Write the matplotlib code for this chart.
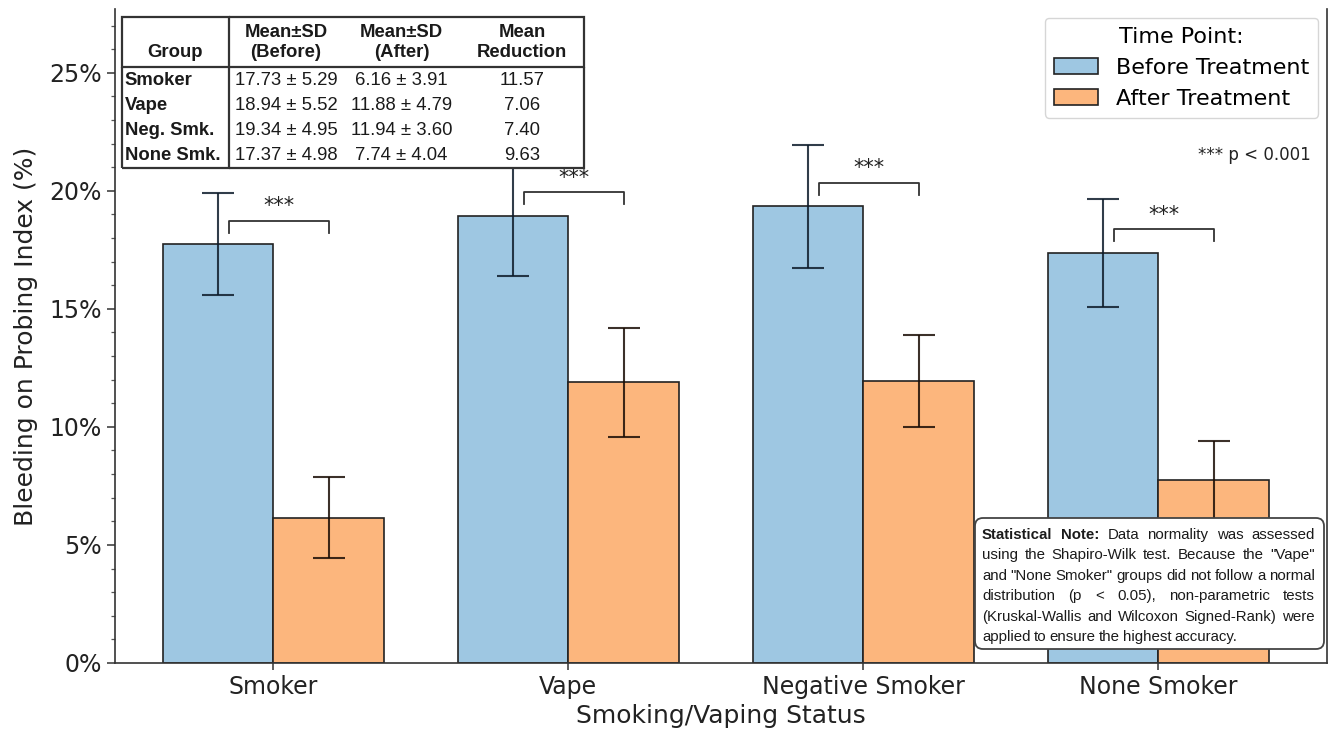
import matplotlib
matplotlib.use('Agg')
import numpy as np
import matplotlib.pyplot as plt
from matplotlib import font_manager
from matplotlib.table import Table
from matplotlib.patches import FancyBboxPatch, Rectangle
from matplotlib.ticker import MultipleLocator, FuncFormatter

groups = ['Smoker', 'Vape', 'Negative Smoker', 'None Smoker']
short_names = ['Smoker', 'Vape', 'Neg. Smk.', 'None Smk.']
before_mean = [17.73, 18.94, 19.34, 17.37]
before_sd = [5.29, 5.52, 4.95, 4.98]
after_mean = [6.16, 11.88, 11.94, 7.74]
after_sd = [3.91, 4.79, 3.60, 4.04]
# error bar half-lengths
before_err = [2.16, 2.54, 2.60, 2.30]
after_err = [1.70, 2.31, 1.95, 1.68]
sig = ['***', '***', '***', '***']

note_lines = [
    'Statistical Note: Data normality was assessed',
    'using the Shapiro-Wilk test. Because the "Vape"',
    'and "None Smoker" groups did not follow a normal',
    'distribution (p < 0.05), non-parametric tests',
    '(Kruskal-Wallis and Wilcoxon Signed-Rank) were',
    'applied to ensure the highest accuracy.',
]

blue = '#9ec7e2'
orange = '#fcb67d'
edge = '#222222'

names = {f.name for f in font_manager.fontManager.ttflist}
narrow = 'Liberation Sans Narrow' if 'Liberation Sans Narrow' in names else 'Liberation Sans'
note_size = 11.5 if narrow == 'Liberation Sans Narrow' else 10.8

fig = plt.figure(figsize=(13.31, 7.36), dpi=100)
ax = fig.add_axes([0.0864, 0.0992, 0.9106, 0.8886])

x = np.arange(len(groups))
w = 0.375
b1 = ax.bar(x - w/2, before_mean, w, color=blue, edgecolor=edge, linewidth=1.2,
            label='Before Treatment', zorder=2)
b2 = ax.bar(x + w/2, after_mean, w, color=orange, edgecolor=edge, linewidth=1.2,
            label='After Treatment', zorder=2)
ax.errorbar(x - w/2, before_mean, yerr=before_err, fmt='none', ecolor='#0d1b2a', alpha=0.85,
            elinewidth=1.5, capsize=11.5, capthick=1.5, zorder=3)
ax.errorbar(x + w/2, after_mean, yerr=after_err, fmt='none', ecolor='#1a0d05', alpha=0.85,
            elinewidth=1.5, capsize=11.5, capthick=1.5, zorder=3)

# significance brackets
for i in range(len(groups)):
    y = before_mean[i] + 1.0
    x0, x1 = x[i] - 0.15, x[i] + w/2
    ax.plot([x0, x0, x1, x1], [y - 0.5, y, y, y - 0.5], color='#333333', lw=1.3, zorder=4)
    ax.text((x0 + x1) / 2, y + 0.62, sig[i], ha='center', va='center', fontsize=15, color='#222')

ax.set_xlim(-0.537, 3.572)
ax.set_ylim(0, 27.7)
ax.set_xticks(x)
ax.set_xticklabels(groups, fontsize=17)
ax.yaxis.set_major_locator(MultipleLocator(5))
ax.yaxis.set_minor_locator(MultipleLocator(1))
ax.yaxis.set_major_formatter(FuncFormatter(lambda v, p: f'{v:.0f}%'))
ax.tick_params(axis='y', labelsize=17, length=6, width=1.1, colors='#333')
ax.tick_params(axis='y', which='minor', length=3, width=0.9, colors='#555')
ax.tick_params(axis='x', length=5, width=1.1, colors='#333')
for lab in ax.get_xticklabels() + ax.get_yticklabels():
    lab.set_color('#222')
ax.set_ylabel('Bleeding on Probing Index (%)', fontsize=18, color='#222', labelpad=8)
ax.set_xlabel('Smoking/Vaping Status', fontsize=18, color='#222', labelpad=4)
ax.spines['top'].set_visible(False)
for s in ['left', 'right', 'bottom']:
    ax.spines[s].set_color('#333')
    ax.spines[s].set_linewidth(1.2)

leg = ax.legend(title='Time Point:', loc='upper right', fontsize=16, title_fontsize=16,
                borderaxespad=0.4, handlelength=2.0)
ax.text(0.9865, 0.777, '*** p < 0.001', transform=ax.transAxes, ha='right', va='center',
        fontsize=12, color='#222')

# summary table
header = ['\nGroup', 'Mean±SD\n(Before)', 'Mean±SD\n(After)', 'Mean\nReduction']
rows = [header]
for i in range(len(groups)):
    rows.append([short_names[i],
                 f'{before_mean[i]:.2f} ± {before_sd[i]:.2f}',
                 f'{after_mean[i]:.2f} ± {after_sd[i]:.2f}',
                 f'{before_mean[i] - after_mean[i]:.2f}'])
col_w = [0.232, 0.247, 0.253, 0.268]
tb_box = [0.0055, 0.757, 0.3815, 0.2303]
ax.add_patch(Rectangle((tb_box[0], tb_box[1]), tb_box[2], tb_box[3], transform=ax.transAxes,
                       facecolor='white', edgecolor='none', zorder=5.5))
tb = Table(ax, bbox=tb_box)
last = len(rows) - 1
for r, row in enumerate(rows):
    for c, txt in enumerate(row):
        loc = 'left' if (c == 0 and r > 0) else 'center'
        cell = tb.add_cell(r, c, width=col_w[c], height=2 if r == 0 else 1, text=txt,
                           loc=loc, facecolor='white', edgecolor='#333')
        cell.PAD = 0.03
        cell.set_linewidth(1.6)
        e = ''
        if r == 0:
            e += 'TB'
        if r == last:
            e += 'B'
        if c == 0:
            e += 'LR'
        if c == 3:
            e += 'R'
        cell.visible_edges = e
        t = cell.get_text()
        t.set_family('Liberation Sans')
        t.set_color('#1a1a1a')
        if r == 0 or c == 0:
            t.set_weight('bold')
tb.auto_set_font_size(False)
tb.set_fontsize(13.3)
tb.set_zorder(6)
ax.add_table(tb)

# statistical note box (figure inches)
box = FancyBboxPatch((9.75, 0.87), 3.49, 1.31, boxstyle='round,pad=0,rounding_size=0.08',
                     transform=fig.dpi_scale_trans, facecolor='white', edgecolor='#444',
                     linewidth=1.3, zorder=10)
fig.patches.append(box)

renderer = fig.canvas.get_renderer()
left_px, right_px = 982, 1315
for i, line in enumerate(note_lines):
    words = line.split(' ')
    base = 736 - (539 + 20.4 * i)
    texts = []
    for j, wd in enumerate(words):
        bold = (i == 0 and j < 2)
        t = fig.text(0, base / 736, wd, fontsize=note_size, family=narrow,
                     weight='bold' if bold else 'normal', va='baseline', ha='left',
                     color='#1a1a1a', zorder=11)
        texts.append(t)
    widths = [t.get_window_extent(renderer).width for t in texts]
    if i == len(note_lines) - 1:
        gap = 3.2
    else:
        gap = (right_px - left_px - sum(widths)) / (len(words) - 1)
    xp = left_px
    for t, wd_ in zip(texts, widths):
        t.set_x(xp / 1331)
        xp += wd_ + gap

fig.savefig('out.png', dpi=100)
